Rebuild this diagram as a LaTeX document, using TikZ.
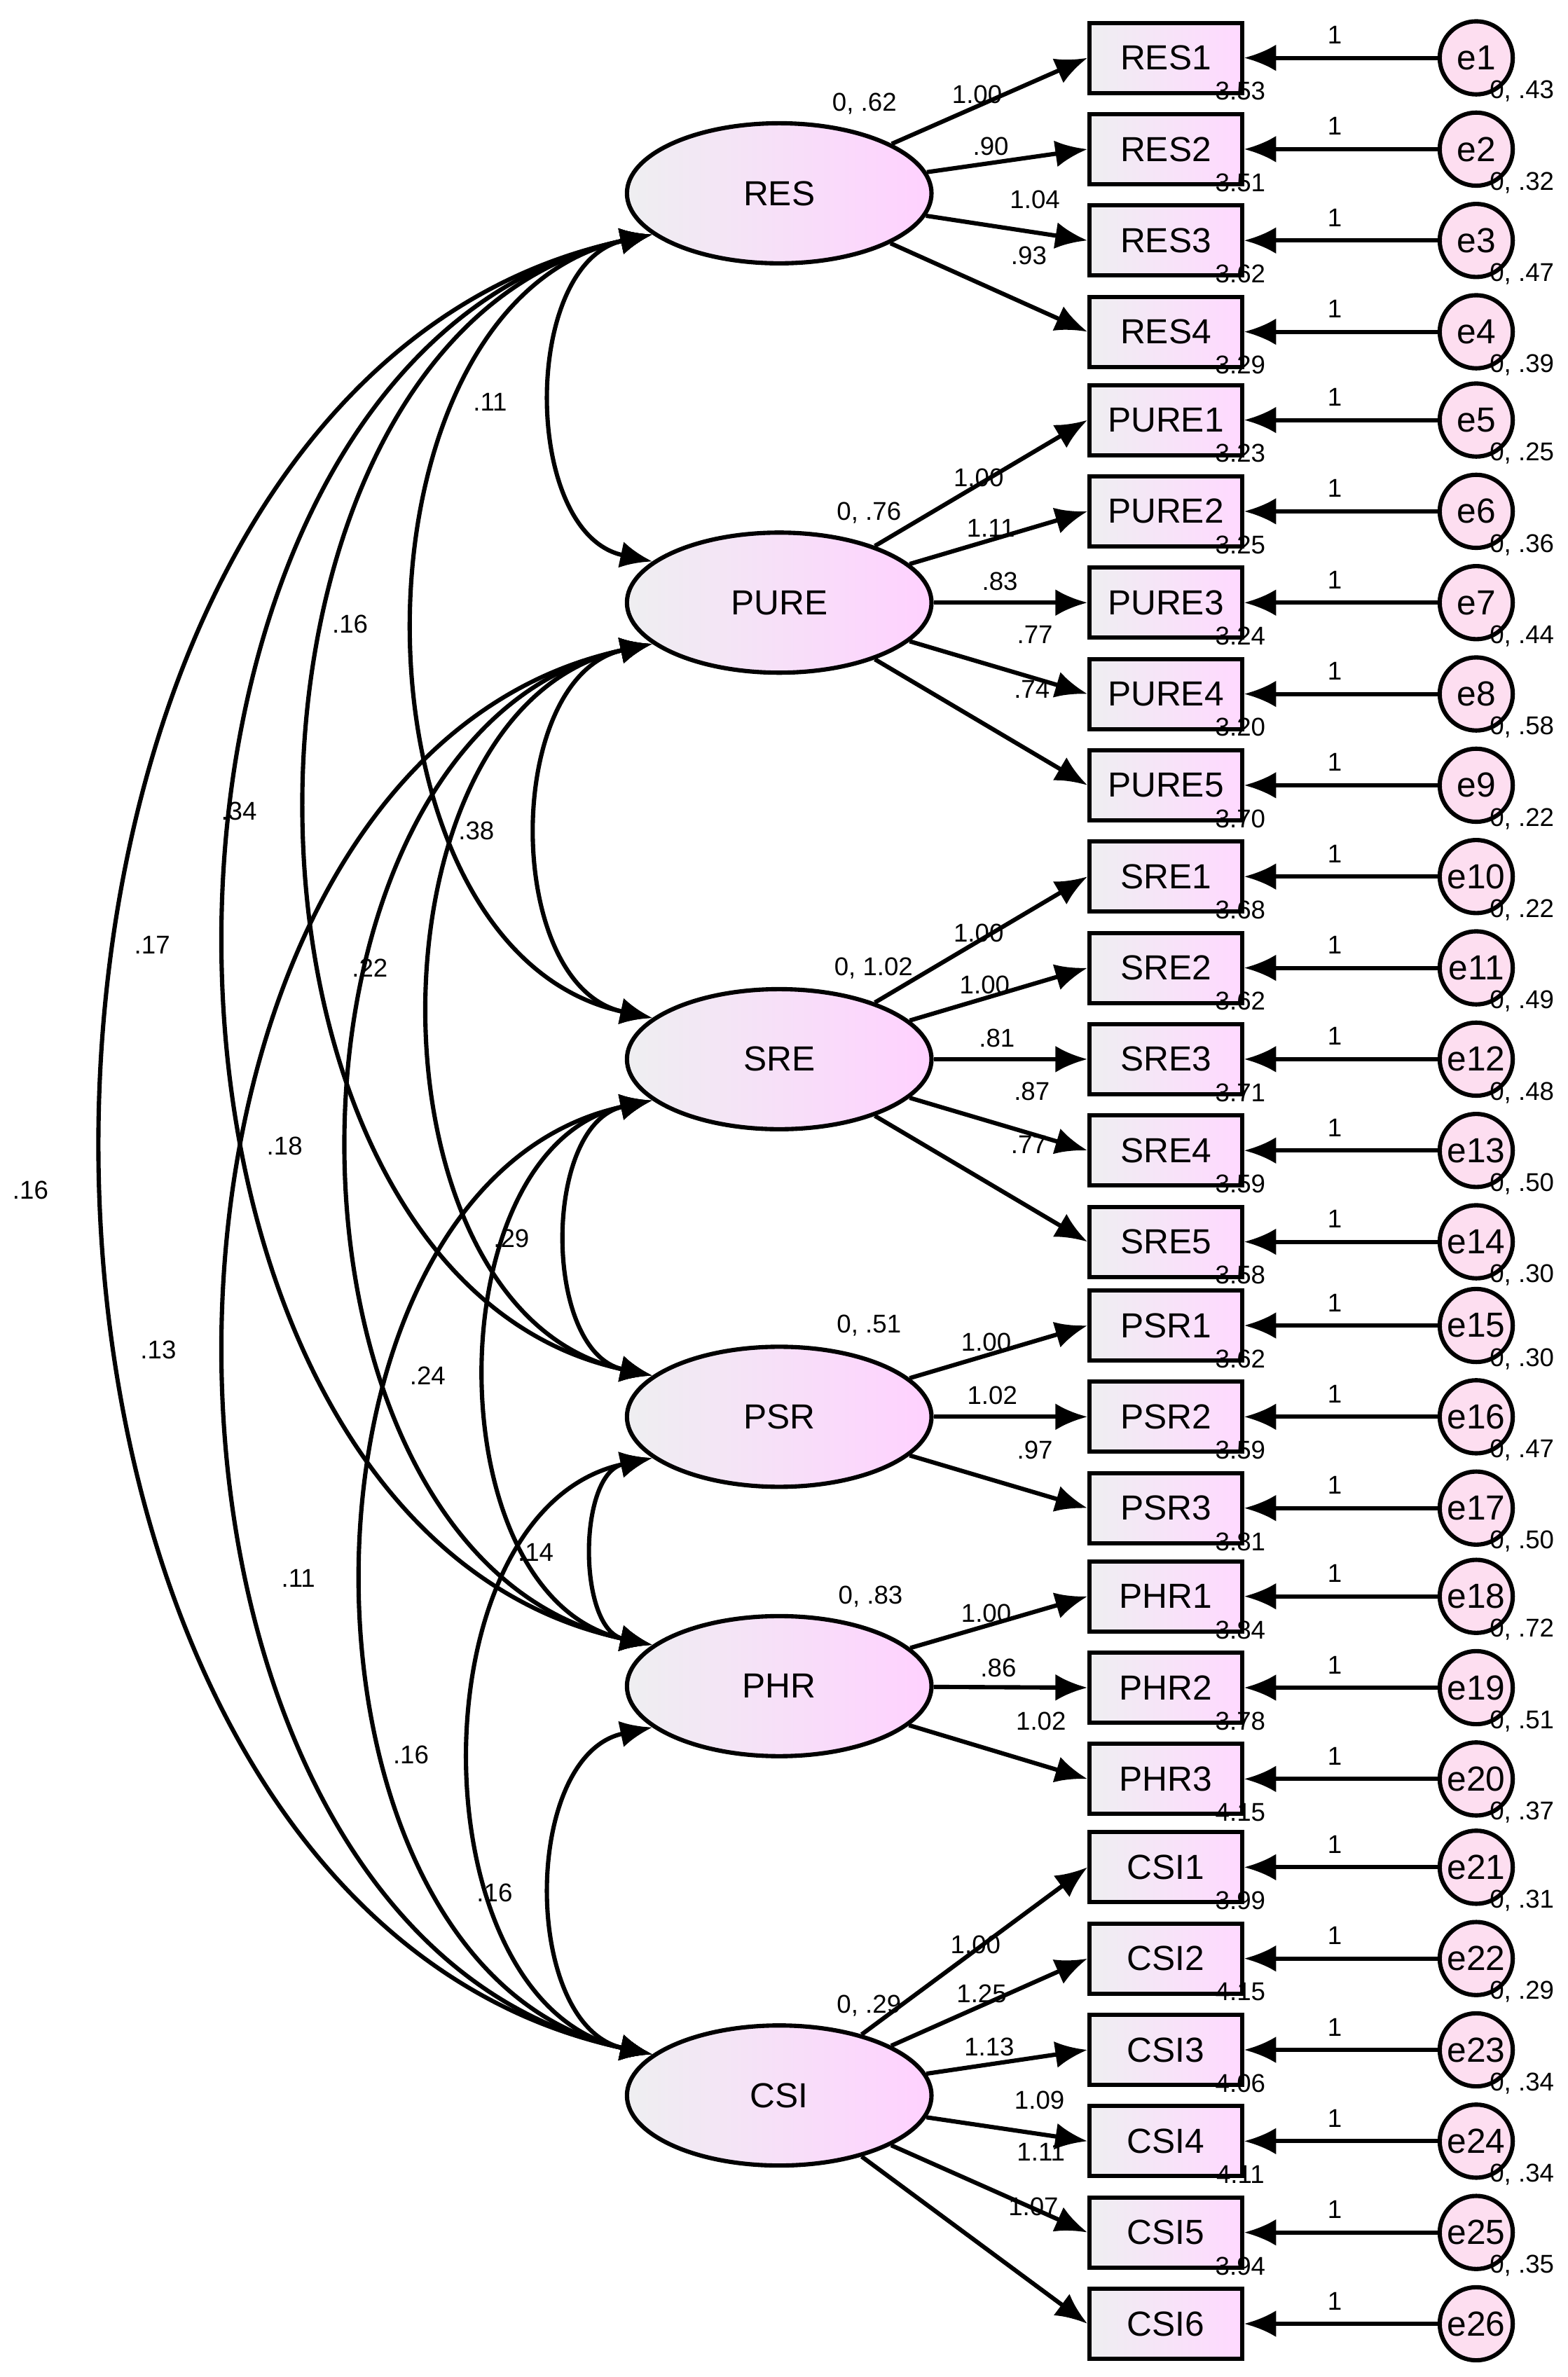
\documentclass[tikz,border=0pt]{standalone}
\usepackage{fontspec}
\setmainfont{Liberation Sans}
\usetikzlibrary{arrows.meta,shapes.geometric}
\begin{document}
\begin{tikzpicture}[x=0.01cm,y=-0.01cm,
 lat/.style={ellipse,draw,thick,minimum width=2cm,minimum height=0.92cm,left color=blue!8!gray!12,right color=magenta!18,font=\fontsize{6.5}{7}\selectfont},
 obs/.style={rectangle,draw,thick,minimum width=1cm,minimum height=0.46cm,left color=blue!8!gray!12,right color=magenta!15,font=\fontsize{6.5}{7}\selectfont},
 err/.style={circle,draw,thick,minimum size=0.48cm,inner sep=0pt,fill=magenta!13,font=\fontsize{6.5}{7}\selectfont},
 arr/.style={thick,-{Latex[length=6pt,width=5pt]}},
 cov/.style={thick,{Latex[length=6pt,width=5pt]}-{Latex[length=6pt,width=5pt]}},
 num/.style={font=\fontsize{4.8}{5}\selectfont,inner sep=0pt}]
\useasboundingbox (0,0) rectangle (1030,1562);
\foreach \n/\y in {RES/127,PURE/396,SRE/696,PSR/931,PHR/1108,CSI/1377}
  \node[lat] (\n) at (512,\y) {\n};
\foreach \n/\y/\i/\m/\v in {RES1/38/1/3.53/.43,RES2/98/2/3.51/.32,RES3/158/3/3.62/.47,RES4/218/4/3.29/.39,
 PURE1/276/5/3.23/.25,PURE2/336/6/3.25/.36,PURE3/396/7/3.24/.44,PURE4/456/8/3.20/.58,PURE5/516/9/3.70/.22,
 SRE1/576/10/3.68/.22,SRE2/636/11/3.62/.49,SRE3/696/12/3.71/.48,SRE4/756/13/3.59/.50,SRE5/816/14/3.58/.30,
 PSR1/871/15/3.62/.30,PSR2/931/16/3.59/.47,PSR3/991/17/3.81/.50,
 PHR1/1049/18/3.84/.72,PHR2/1109/19/3.78/.51,PHR3/1169/20/4.15/.37,
 CSI1/1227/21/3.99/.31,CSI2/1287/22/4.15/.29,CSI3/1347/23/4.06/.34,CSI4/1407/24/4.11/.34,CSI5/1467/25/3.94/.35}{
  \node[obs] (\n) at (766,\y) {\n};
  \node[err] (e\i) at (970,\y) {e\i};
  \draw[arr] (e\i) -- (\n);
  \node[num] (one\i) at (877,\y-15) {1};
  \node[num] (m\i) at (815,\y+22) {\m};
  \node[num] (v\i) at (1000,\y+22) {0, \v};
}
\node[obs] (CSI6) at (766,1527) {CSI6};
\node[err] (e26) at (970,1527) {e26};
\draw[arr] (e26) -- (CSI6);
\node[num] (one26) at (877,1512) {1};
\foreach \l/\ns in {RES/{RES1,RES2,RES3,RES4},PURE/{PURE1,PURE2,PURE3,PURE4,PURE5},SRE/{SRE1,SRE2,SRE3,SRE4,SRE5},PSR/{PSR1,PSR2,PSR3},PHR/{PHR1,PHR2,PHR3},CSI/{CSI1,CSI2,CSI3,CSI4,CSI5,CSI6}}
  \foreach \n in \ns \draw[arr] (\l) -- (\n.west);
\foreach \t/\x/\y in {1.00/642/62,.90/651/96,1.04/680/131,.93/676/168,
 1.00/643/314,1.11/651/347,.83/657/382,.77/680/417,.74/678/453,
 1.00/643/613,1.00/647/647,.81/655/682,.87/678/717,.77/676/752,
 1.00/648/882,1.02/652/917,.97/680/953,
 1.00/648/1060,.86/656/1096,1.02/684/1131,
 1.00/641/1278,1.25/645/1310,1.13/650/1345,1.09/683/1380,1.11/684/1414,1.07/679/1450,
 {0, .62}/568/68,{0, .76}/571/337,{0, 1.02}/574/636,{0, .51}/571/871,{0, .83}/572/1049,{0, .29}/571/1318}
  \node[num] at (\x,\y) {\t};
\foreach \a/\b/\t/\x/\y in {RES/PURE/.11/322/264,RES/SRE/.16/230/410,RES/PSR/.34/157/533,RES/PHR/.17/100/621,RES/CSI/.16/20/782,
 PURE/SRE/.38/313/546,PURE/PSR/.22/243/636,PURE/PHR/.18/187/753,PURE/CSI/.13/104/887,
 SRE/PSR/.29/336/814,SRE/PHR/.24/281/904,SRE/CSI/.11/196/1037,
 PSR/PHR/.14/352/1020,PSR/CSI/.16/270/1153,PHR/CSI/.16/325/1244}{
  \draw[cov] (\a.198) to[bend right=78,looseness=1.05] (\b.162);
  \node[num] at (\x,\y) {\t};
}
\end{tikzpicture}
\end{document}
